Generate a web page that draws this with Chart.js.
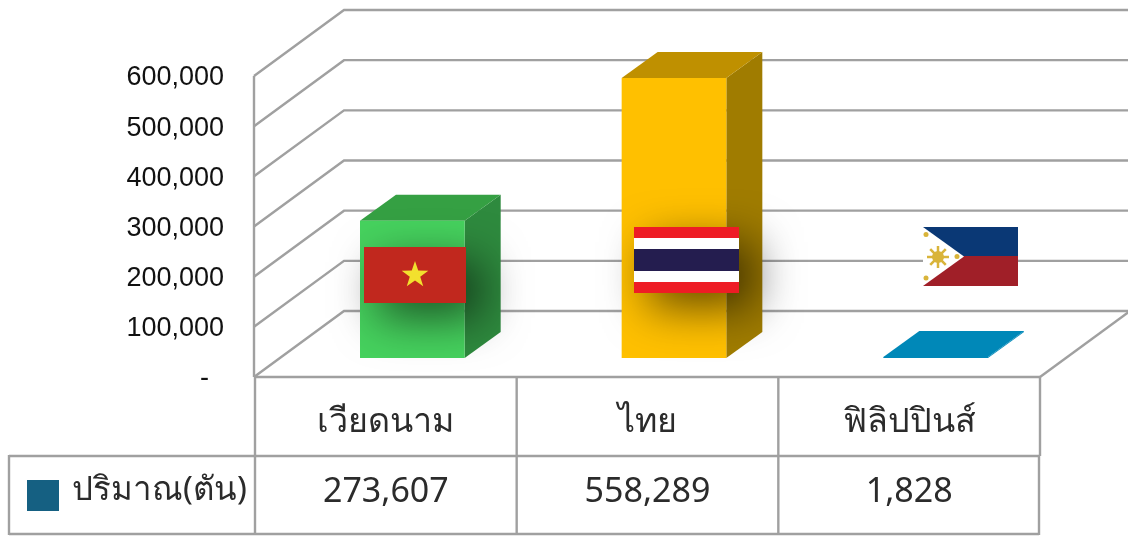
<!DOCTYPE html>
<html>
<head>
<meta charset="utf-8">
<style>
  html, body { margin: 0; padding: 0; background: #fff; }
  canvas { display: block; }
</style>
<script src="https://cdn.jsdelivr.net/npm/chart.js@4"></script>
</head>
<body>
<canvas id="riceChart" width="1128" height="536"></canvas>
<script>
const categories = ['เวียดนาม', 'ไทย', 'ฟิลิปปินส์'];
const tons = [273607, 558289, 1828];
const seriesName = 'ปริมาณ(ตัน)';
const frontColors = ['#46d25e', '#ffc000', '#0088b8'];
const topColors = ['#35a043', '#bf9000', '#0088b8'];
const sideColors = ['#2e8a3e', '#a07c00', '#0088b8'];

const lineColor = '#a0a0a0';
const textFont = '"Noto Sans", "Open Sans", sans-serif';

function line(ctx, pts) {
    ctx.beginPath();
    ctx.moveTo(pts[0][0], pts[0][1]);
    for (let i = 1; i < pts.length; i++) ctx.lineTo(pts[i][0], pts[i][1]);
    ctx.stroke();
}

function poly(ctx, pts, color) {
    ctx.fillStyle = color;
    ctx.beginPath();
    ctx.moveTo(pts[0][0], pts[0][1]);
    for (let i = 1; i < pts.length; i++) ctx.lineTo(pts[i][0], pts[i][1]);
    ctx.closePath();
    ctx.fill();
}

// flags sit on top of the bars, the first two with a soft drop shadow
function flagShadow(ctx) {
    ctx.shadowColor = 'rgba(0,0,0,0.6)';
    ctx.shadowBlur = 45;
    ctx.shadowOffsetX = 15;
    ctx.shadowOffsetY = 15;
}

function drawVietnam(ctx) {
    ctx.save();
    flagShadow(ctx);
    ctx.fillStyle = '#c1281e';
    ctx.fillRect(364, 247, 102, 56);
    ctx.restore();
    const pts = [];
    for (let i = 0; i < 10; i++) {
        const r = i % 2 ? 5.5 : 14;
        const a = -Math.PI / 2 + i * Math.PI / 5;
        pts.push([415 + r * Math.cos(a), 275 + r * Math.sin(a)]);
    }
    poly(ctx, pts, '#f2e02e');
}

function drawThailand(ctx) {
    ctx.save();
    flagShadow(ctx);
    ctx.fillStyle = '#ee1c25';
    ctx.fillRect(634, 227, 105, 66);
    ctx.restore();
    ctx.fillStyle = '#fff';
    ctx.fillRect(634, 238, 105, 44);
    ctx.fillStyle = '#241d4f';
    ctx.fillRect(634, 249, 105, 22);
}

function drawPhilippines(ctx) {
    ctx.fillStyle = '#0a3875';
    ctx.fillRect(923, 227, 95, 30);
    ctx.fillStyle = '#a01f28';
    ctx.fillRect(923, 256, 95, 30);
    poly(ctx, [[923, 227], [964, 256.5], [923, 286]], '#fff');
    ctx.strokeStyle = '#d9b43a';
    ctx.lineWidth = 2.5;
    for (let i = 0; i < 8; i++) {
        const a = i * Math.PI / 4;
        line(ctx, [[938, 257], [938 + 11 * Math.cos(a), 257 + 11 * Math.sin(a)]]);
    }
    ctx.fillStyle = '#d9b43a';
    ctx.beginPath();
    ctx.arc(938, 257, 6, 0, Math.PI * 2);
    ctx.fill();
    [[926, 234.5], [926, 278], [957, 256.5]].forEach(p => {
        ctx.beginPath();
        ctx.arc(p[0], p[1], 2.5, 0, Math.PI * 2);
        ctx.fill();
    });
}

const chart3d = {
    id: 'chart3d',
    beforeDraw(chart) {
        const ctx = chart.ctx;
        ctx.save();
        ctx.fillStyle = '#fff';
        ctx.fillRect(0, 0, chart.width, chart.height);
        ctx.restore();
    },
    // back wall and side wall lines, one per y tick
    beforeDatasetsDraw(chart) {
        const ctx = chart.ctx;
        const y = chart.scales.y;
        const a = chart.chartArea;
        ctx.save();
        ctx.strokeStyle = lineColor;
        ctx.lineWidth = 2.4;
        y.ticks.forEach(t => {
            const py = y.getPixelForValue(t.value);
            line(ctx, [[a.left - 1, py], [a.left + 89, py - 66], [chart.width, py - 66]]);
        });
        line(ctx, [[a.left - 1, y.getPixelForValue(600000)], [a.left - 1, a.bottom]]);
        line(ctx, [[a.right, a.bottom], [a.right + 90, a.bottom - 66]]);
        ctx.restore();
    },
    // bars stand a little way back from the front edge of the floor
    beforeDatasetDraw(chart, args) {
        const ctx = chart.ctx;
        ctx.save();
        ctx.translate(26.5, -19);
        args.meta.data.forEach((bar, i) => {
            const l = bar.x - bar.width / 2, r = bar.x + bar.width / 2;
            poly(ctx, [[r, bar.y], [r + 36, bar.y - 26], [r + 36, bar.base - 26], [r, bar.base]], sideColors[i]);
            poly(ctx, [[l, bar.y], [l + 36, bar.y - 26], [r + 36, bar.y - 26], [r, bar.y]], topColors[i]);
        });
    },
    afterDatasetDraw(chart) {
        chart.ctx.restore();
    },
    afterDatasetsDraw(chart) {
        const ctx = chart.ctx;
        const a = chart.chartArea;
        const x = chart.scales.x;
        const colW = (a.right - a.left) / categories.length;

        ctx.save();
        drawVietnam(ctx);
        drawThailand(ctx);
        drawPhilippines(ctx);

        // data table under the axis
        ctx.strokeStyle = lineColor;
        ctx.lineWidth = 2.4;
        line(ctx, [[a.left, a.bottom], [a.right, a.bottom]]);
        line(ctx, [[9, 456], [a.right, 456]]);
        line(ctx, [[9, 534], [a.right - 1, 534]]);
        line(ctx, [[9, 455], [9, 535]]);
        for (let i = 0; i <= categories.length; i++) {
            const cx = a.left + i * colW;
            line(ctx, [[cx, a.bottom], [cx, 456]]);
            line(ctx, [[i === categories.length ? cx - 1 : cx, 456], [i === categories.length ? cx - 1 : cx, 535]]);
        }

        ctx.fillStyle = '#2b2b2b';
        ctx.font = '34px ' + textFont;
        ctx.textAlign = 'center';
        ctx.textBaseline = 'middle';
        tons.forEach((v, i) => {
            ctx.fillText(v.toLocaleString('en-US'), x.getPixelForValue(i), 492);
        });

        ctx.fillStyle = '#156082';
        ctx.fillRect(27, 480, 32, 31);
        ctx.fillStyle = '#2b2b2b';
        ctx.textAlign = 'left';
        ctx.font = '33px ' + textFont;
        ctx.fillText(seriesName, 72, 491);
        ctx.restore();
    }
};

new Chart(document.getElementById('riceChart'), {
    type: 'bar',
    data: {
        labels: categories,
        datasets: [{
            label: seriesName,
            data: tons,
            backgroundColor: frontColors,
            barPercentage: 0.4,
            categoryPercentage: 1,
            clip: false
        }]
    },
    plugins: [chart3d],
    options: {
        responsive: false,
        animation: false,
        layout: { padding: { top: 76, right: 88, bottom: 0, left: 0 } },
        plugins: { legend: { display: false }, tooltip: { enabled: false } },
        scales: {
            x: {
                afterFit(scale) { scale.height = 159; },
                grid: { display: false },
                border: { display: false },
                ticks: { color: '#2b2b2b', font: { family: textFont, size: 34 }, padding: 17, maxRotation: 0 }
            },
            y: {
                min: 0,
                max: 600000,
                afterFit(scale) { scale.width = 255; },
                grid: { display: false, drawTicks: false },
                border: { display: false },
                ticks: {
                    stepSize: 100000,
                    color: '#111',
                    padding: 31,
                    labelOffset: 2,
                    font: { family: 'Liberation Sans', size: 27 },
                    callback(v) { return v === 0 ? '-\u00a0\u00a0' : v.toLocaleString('en-US'); }
                }
            }
        }
    }
});
</script>
</body>
</html>
